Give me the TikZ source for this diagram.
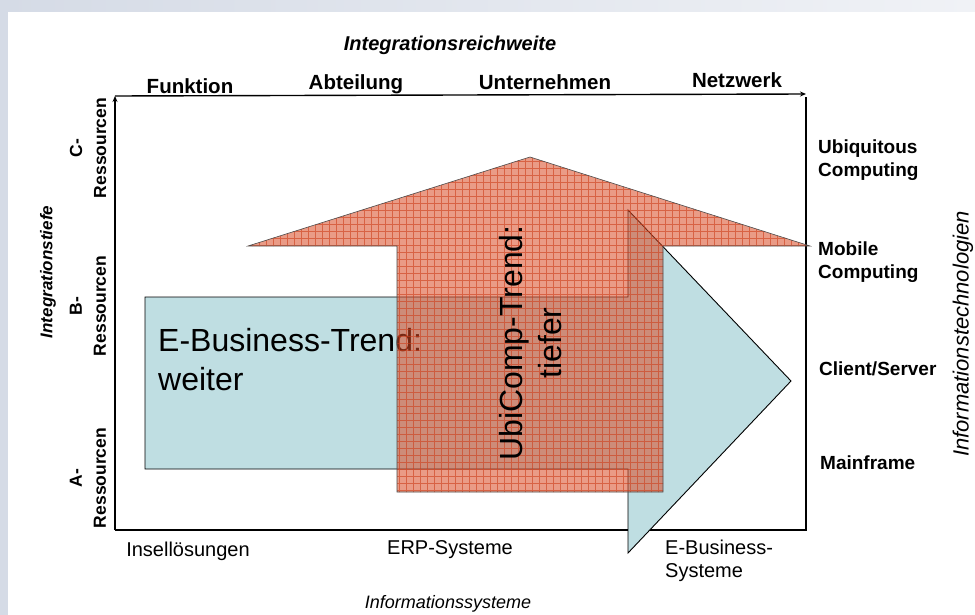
\documentclass[tikz,border=0pt]{standalone}
\usepackage{fontspec}
\setmainfont{Liberation Sans}
\usetikzlibrary{arrows.meta}
\definecolor{bgblue}{RGB}{213,219,230}
\definecolor{bgtop}{RGB}{240,242,246}
\definecolor{bluefill}{RGB}{191,222,226}
\definecolor{redbase}{RGB}{218,73,36}
\definecolor{gridred}{RGB}{205,60,25}
\tikzset{
  axis/.style={line width=1.4pt, black},
  tip/.style={-{Stealth[length=6pt,width=5pt]}},
  toplab/.style={font=\fontsize{20.5}{24}\selectfont\bfseries, inner sep=0pt},
  lab/.style={font=\fontsize{19}{23}\selectfont\bfseries, inner sep=0pt},
  botlab/.style={font=\fontsize{20}{23}\selectfont, inner sep=0pt},
  ilab/.style={font=\fontsize{18}{22}\selectfont\itshape, inner sep=0pt},
  bilab/.style={font=\fontsize{20}{24}\selectfont\bfseries\itshape, inner sep=0pt},
  reslab/.style={font=\fontsize{17.5}{24}\selectfont\bfseries, inner sep=0pt, rotate=90, align=center},
  bigtxt/.style={font=\fontsize{32}{39}\selectfont, inner sep=0pt},
  bluearrow/.style={fill=bluefill, draw=black, line width=0.9pt},
  redarrow/.style={fill=redbase, fill opacity=0.55},
  redline/.style={draw=black!70, line width=0.6pt},
}
\begin{document}
\begin{tikzpicture}[x=1pt,y=-1pt]
\useasboundingbox (0,0) rectangle (975,615);
% background
\fill[bgblue] (0,0) rectangle (975,615);
\shade[left color=bgblue, right color=bgtop] (0,0) rectangle (975,12);
\fill[white] (8,12) rectangle (975,615);

% axes frame
\coordinate (O) at (115,530);
\coordinate (TL) at (115,96);
\coordinate (TR) at (806,94);
\coordinate (BR) at (806,530);
\coordinate (RT) at (806,97);
\draw[axis] (O) -- (BR) -- (RT);
\draw[axis,tip] (O) -- (TL);
\draw[axis,tip] (TL) -- (TR);

% top labels
\node[bilab] (ir) at (450,45) {Integrationsreichweite};
\node[toplab] (fu) at (190,86) {Funktion};
\node[toplab] (ab) at (356,84) {Abteilung};
\node[toplab] (un) at (545,82) {Unternehmen};
\node[toplab] (nw) at (737,80) {Netzwerk};

% left labels
\node[bilab, rotate=90, font=\fontsize{17}{20}\selectfont\bfseries\itshape] (it) at (48,272) {Integrationstiefe};
\node[reslab] (cr) at (88,148) {C-\\Ressourcen};
\node[reslab] (br) at (88,306) {B-\\Ressourcen};
\node[reslab] (ar) at (88,478) {A-\\Ressourcen};

% right labels
\node[lab, anchor=west, align=left] (ub) at (818,160) {Ubiquitous\\Computing};
\node[lab, anchor=west, align=left] (mc) at (818,262) {Mobile\\Computing};
\node[lab, anchor=west] (cs) at (819,369) {Client/Server};
\node[lab, anchor=west] (mf) at (820,463) {Mainframe};
\node[ilab, rotate=90, font=\fontsize{22}{26}\selectfont\itshape] (itech) at (963,334) {Informationstechnologien};

% bottom labels
\node[botlab] (is) at (188,551) {Insellösungen};
\node[botlab] (erp) at (450,550) {ERP-Systeme};
\node[botlab, anchor=west, align=left] (ebs) at (665,561) {E-Business-\\Systeme};
\node[ilab] (isys) at (448,604) {Informationssysteme};

% blue arrow (E-Business-Trend)
\draw[bluearrow] (145,297) -- (628,297) -- (628,210) -- (791,381) -- (628,553) -- (628,469) -- (145,469) -- cycle;
\node[bigtxt, anchor=north west, align=left] (ebt) at (158,328) {E-Business-Trend:\\weiter};

% red arrow (UbiComp-Trend)
\path[redarrow] (397,492) -- (397,246) -- (248,246) -- (530,157) -- (810,246) -- (663,246) -- (663,492) -- cycle;
\begin{scope}
  \clip (397,492) -- (397,246) -- (248,246) -- (530,157) -- (810,246) -- (663,246) -- (663,492) -- cycle;
  \draw[gridred, line width=0.45pt, opacity=0.6, step=7pt] (240,150) grid (820,500);
\end{scope}
\draw[redline] (397,492) -- (397,246) -- (248,246) -- (530,157) -- (810,246) -- (663,246) -- (663,492) -- cycle;
\node[bigtxt, rotate=90, align=center] (uct) at (531,343) {UbiComp-Trend:\\tiefer};
\end{tikzpicture}
\end{document}
